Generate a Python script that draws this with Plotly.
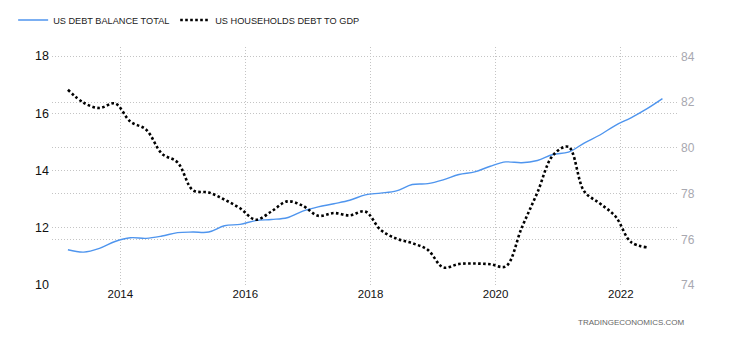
import pandas as pd
import plotly.graph_objects as go

# Quarterly observation dates (Q1 2013 .. Q3 2022)
dates = pd.date_range("2013-03-01", periods=39, freq="3MS")

# US debt balance total (USD trillion), left axis
debt_total = [11.23, 11.15, 11.28, 11.52, 11.65, 11.63, 11.71, 11.83, 11.85, 11.85,
              12.07, 12.12, 12.25, 12.29, 12.35, 12.58, 12.73, 12.84, 12.96, 13.15,
              13.21, 13.29, 13.51, 13.54, 13.67, 13.86, 13.95, 14.15, 14.30, 14.27,
              14.35, 14.56, 14.64, 14.96, 15.24, 15.58, 15.84, 16.15, 16.51]

# US households debt to GDP (%), right axis (ends one quarter earlier)
hh_debt_gdp = [82.55, 81.98, 81.75, 81.95, 81.15, 80.80, 79.75, 79.37, 78.15, 78.05,
               77.74, 77.36, 76.86, 77.22, 77.66, 77.47, 77.03, 77.15, 77.05, 77.22,
               76.41, 76.03, 75.83, 75.54, 74.77, 74.92, 74.94, 74.91, 74.82, 76.50,
               78.05, 79.68, 80.05, 78.10, 77.57, 77.00, 75.88, 75.65]

left_ticks = [10, 12, 14, 16, 18]
right_ticks = [74, 76, 78, 80, 82, 84]

FONT = "Liberation Sans, Arial, sans-serif"
GRID = dict(showgrid=True, gridcolor="#c4c4c4", griddash="1px,2px", gridwidth=1,
            showline=False, zeroline=False, ticks="")
LEG = dict(orientation="h", xref="container", yref="container", y=0.941,
           xanchor="left", yanchor="middle",
           font=dict(size=9.2, color="#222222", family=FONT), bgcolor="rgba(0,0,0,0)")

fig = go.Figure()
fig.add_trace(go.Scatter(
    x=dates[:len(debt_total)], y=debt_total, name="US DEBT BALANCE TOTAL",
    mode="lines", line=dict(color="#4f95ee", width=1.4, shape="spline"),
    yaxis="y", legend="legend"))
fig.add_trace(go.Scatter(
    x=dates[:len(hh_debt_gdp)], y=hh_debt_gdp, name="US HOUSEHOLDS DEBT TO GDP",
    mode="lines", line=dict(color="#000000", width=2.6, dash="2.6px,2.4px", shape="spline"),
    yaxis="y2", legend="legend2"))

fig.update_layout(
    width=730, height=340,
    margin=dict(l=52, r=53, t=40, b=55),
    paper_bgcolor="white", plot_bgcolor="white",
    font=dict(family=FONT, color="#222222"),
    showlegend=True,
    legend=dict(x=0.018, **LEG),
    legend2=dict(x=0.24, **LEG),
    xaxis=dict(type="date", range=["2012-11-28", "2022-11-25"],
               tick0="2014-01-01", dtick="M24", tickformat="%Y",
               tickfont=dict(size=11.5, color="#111111"), **GRID),
    yaxis=dict(range=[10, 18.33], tickvals=left_ticks,
               tickfont=dict(size=12.5, color="#111111"), ticklabelstandoff=2, **GRID),
    yaxis2=dict(range=[74, 84.44], tickvals=right_ticks, overlaying="y", side="right",
                tickfont=dict(size=12, color="#a8a8b0"), ticklabelstandoff=3, **GRID),
    annotations=[dict(text="TRADINGECONOMICS.COM", xref="paper", yref="paper",
                      x=1.016, y=-0.159, xanchor="right", yanchor="middle",
                      showarrow=False, font=dict(size=8, color="#666666", family=FONT))],
)

fig.write_html("out.html")
